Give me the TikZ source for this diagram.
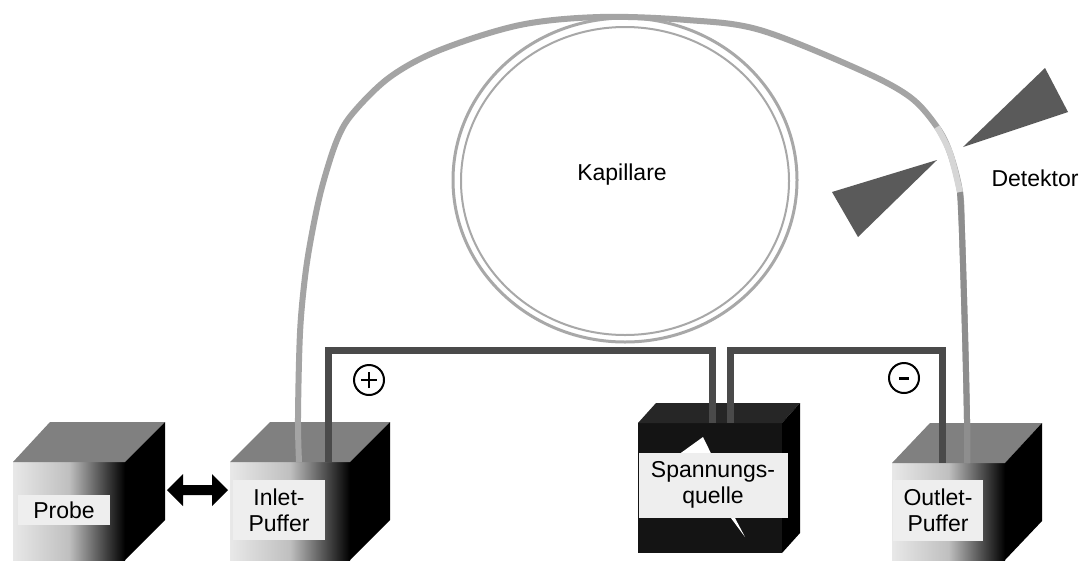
\documentclass[tikz,border=0pt]{standalone}
\usepackage{fontspec}
\setmainfont{Liberation Sans}
\definecolor{tubegray}{HTML}{A4A4A4}
\definecolor{tubedark}{HTML}{8E8E8E}
\definecolor{windowgray}{HTML}{D6D6D6}
\definecolor{coilgray}{HTML}{A8A8A8}
\definecolor{wiregray}{HTML}{4A4A4A}
\definecolor{topgray}{HTML}{808080}
\definecolor{detgray}{HTML}{5A5A5A}
\definecolor{labelbg}{HTML}{EEEEEE}
\begin{document}
\begin{tikzpicture}[x=1pt,y=-1pt,
  lbl/.style={fill=labelbg, inner sep=0pt, align=center, font=\fontsize{23}{26}\selectfont},
  txt/.style={inner sep=0pt, font=\fontsize{23}{26}\selectfont},
  tube/.style={line width=6pt, draw=tubegray, line cap=butt},
  wire/.style={line width=7pt, draw=wiregray, line join=miter},
  topface/.style={fill=topgray},
  sideface/.style={fill=black},
  frontface/.style={left color=gray!18, right color=black, middle color=gray!50},
  sign/.style={circle, draw, line width=2pt, minimum size=30pt, inner sep=0pt},
]
\useasboundingbox[fill=white] (0,0) rectangle (1081,560);

% coiled capillary
\draw[coilgray, line width=3pt] (625,180) ellipse [x radius=172, y radius=162];
\draw[coilgray, line width=2pt] (625,181) ellipse [x radius=164, y radius=154];

% Probe vial
\shade[frontface] (13,462) rectangle (125,560);
\fill[topface] (13,462) -- (50,422) -- (165,422) -- (125,462) -- cycle;
\fill[sideface] (125,462) -- (165,422) -- (165,520) -- (125,560) -- cycle;

% inlet buffer vial
\shade[frontface] (230,462) rectangle (350,560);
\fill[topface] (230,462) -- (270,422) -- (390,422) -- (350,462) -- cycle;
\fill[sideface] (350,462) -- (390,422) -- (390,520) -- (350,560) -- cycle;

% outlet buffer vial
\shade[frontface] (892,463) rectangle (1005,560);
\fill[topface] (892,463) -- (930,423) -- (1042,423) -- (1005,463) -- cycle;
\fill[sideface] (1005,463) -- (1042,423) -- (1042,521) -- (1005,560) -- cycle;

% power supply
\fill[black!92] (638,423) rectangle (782,553);
\fill[black!85] (638,423) -- (656,403) -- (800,403) -- (782,423) -- cycle;
\fill[black] (782,423) -- (800,403) -- (800,533) -- (782,553) -- cycle;
\fill[white] (678,455) -- (703,437) -- (724,480) -- (716,482) -- (745,537)
  -- (708,487) -- (716,485) -- cycle;

% capillary from inlet to outlet
\coordinate (tin) at (299,462);
\coordinate (tout) at (967,463);
\draw[tube] plot[smooth, tension=0.55] coordinates {(tin) (298,417) (300,333) (305,277)
  (312,233) (322,187) (337,140) (353,113) (390,77) (440,50) (520,25) (600,17)
  (687,20) (760,30) (860,70) (910,97) (937,127) (950,153) (960,192) (962,233)
  (965,333) (967,420) (tout)};
\draw[line width=6pt, draw=tubedark] plot[smooth, tension=0.55] coordinates {(960,192)
  (962,233) (965,333) (967,420) (tout)};
\draw[line width=6pt, draw=windowgray] plot[smooth, tension=0.55] coordinates {(937,127)
  (950,153) (960,192)};

% detector
\fill[detgray] (937,160) -- (832,192) -- (858,237) -- cycle;
\fill[detgray] (963,147) -- (1068,112) -- (1045,68) -- cycle;

% electrode wires
\coordinate (win) at (328,462);
\coordinate (wsa) at (712,423);
\coordinate (wsb) at (730,423);
\coordinate (wout) at (942,463);
\draw[wire] (win) |- (712,350) -- (wsa);
\draw[wire] (wsb) |- (942,350) -- (wout);

% polarity signs
\node[sign] (plus) at (369,380) {};
\draw[line width=1.4pt] ([xshift=-8pt]plus.center) -- ([xshift=8pt]plus.center)
  ([yshift=-8pt]plus.center) -- ([yshift=8pt]plus.center);
\node[sign] (minus) at (904,378) {};
\draw[line width=3pt] ([xshift=-5pt]minus.center) -- ([xshift=5pt]minus.center);

% sample exchange arrow
\coordinate (probeR) at (167,490);
\coordinate (inletL) at (228,490);
\fill[black] (probeR) -- ++(16,-16) -- ++(0,11) -- ++(29,0) -- ++(0,-11) -- (inletL)
  -- ++(-16,16) -- ++(0,-11) -- ++(-29,0) -- ++(0,11) -- cycle;

% labels
\node[lbl, minimum width=92pt, minimum height=30pt] (probe) at (64,510) {Probe};
\node[lbl, minimum width=92pt, minimum height=60pt] (inlet) at (279,510) {Inlet-\\Puffer};
\node[lbl, minimum width=149pt, minimum height=65pt] (quelle) at (713,485) {Spannungs-\\quelle};
\node[lbl, minimum width=90pt, minimum height=61pt] (outlet) at (938,510) {Outlet-\\Puffer};
\node[txt] (kap) at (622,175) {Kapillare};
\node[txt] (det) at (1035,178) {Detektor};
\end{tikzpicture}
\end{document}
